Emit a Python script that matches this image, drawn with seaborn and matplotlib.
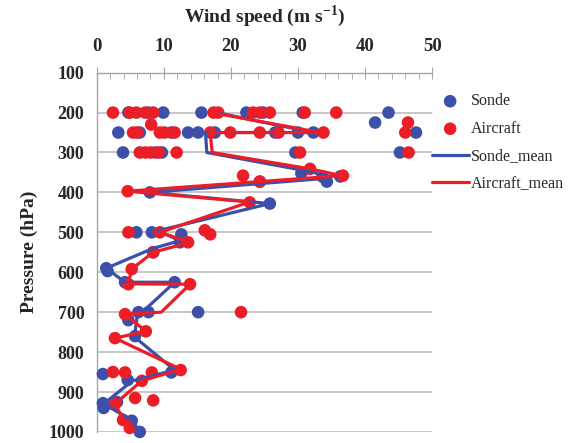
import numpy as np
import pandas as pd
import matplotlib
matplotlib.use("Agg")
import matplotlib.pyplot as plt
import seaborn as sns
from matplotlib.ticker import MultipleLocator

# sonde observations (wind speed m/s, pressure hPa)
sonde_speed = [4.7, 7.7, 9.9, 15.6, 22.3, 24.8, 30.7, 43.5, 41.5,
               3.2, 6.4, 11.1, 13.6, 15.1, 17.6, 26.6, 30.0, 32.3, 47.6,
               3.9, 8.7, 9.7, 29.6, 45.2,
               30.5, 33.7, 36.3, 34.3, 24.3, 7.9, 25.8,
               5.9, 8.2, 12.6, 12.4, 8.4, 1.4, 1.6, 4.2, 11.6,
               6.2, 7.7, 15.1, 4.7, 5.7, 0.9, 11.1, 4.6,
               0.9, 1.0, 3.0, 5.2, 6.4]
sonde_pres = [200, 200, 200, 200, 200, 200, 200, 200, 225,
              250, 250, 250, 250, 250, 250, 250, 250, 250, 250,
              300, 300, 300, 300, 300,
              352, 361, 360, 373, 373, 400, 428,
              500, 500, 505, 525, 550, 590, 597, 625, 625,
              700, 700, 700, 720, 760, 855, 851, 870,
              928, 940, 925, 972, 1000]

# aircraft observations
air_speed = [2.4, 4.9, 5.9, 7.2, 8.4, 17.4, 18.1, 23.3, 24.3, 25.8, 31.0, 35.7,
             8.1, 46.4,
             5.4, 6.0, 9.4, 10.1, 11.6, 16.9, 19.9, 24.3, 27.1, 33.8, 46.0,
             6.4, 7.2, 8.0, 9.2, 11.9, 30.3, 46.5,
             31.8, 21.8, 36.7, 24.3, 4.6, 22.8,
             4.7, 9.4, 16.1, 16.9, 13.6, 8.4, 5.2, 4.7, 13.9,
             4.2, 21.5, 7.3, 2.7, 12.5, 2.4, 4.2, 8.2, 6.7,
             8.4, 2.7, 5.7, 3.9, 4.9]
air_pres = [200, 200, 200, 200, 200, 200, 200, 200, 200, 200, 200, 200,
            230, 225,
            250, 250, 250, 250, 250, 250, 250, 250, 250, 250, 250,
            300, 300, 300, 300, 300, 300, 300,
            341, 358, 358, 373, 397, 425,
            500, 500, 495, 505, 525, 550, 592, 630, 630,
            705, 700, 748, 765, 845, 850, 851, 851, 872,
            921, 930, 915, 970, 990]

# mean profiles, in drawing order
sonde_mean_speed = [17.8, 32.3, 16.2, 16.4, 32.5, 34.0, 7.9, 25.8, 9.1, 12.4, 8.4,
                    1.4, 4.2, 11.6, 6.0, 5.6, 11.6, 5.3, 1.0, 5.2, 6.4]
sonde_mean_pres = [200, 250, 250, 300, 350, 365, 400, 428, 496, 521, 540,
                   590, 625, 625, 712, 762, 845, 872, 930, 970, 1000]
air_mean_speed = [17.2, 33.3, 16.9, 17.2, 31.8, 36.5, 4.6, 22.8, 9.4, 13.9, 8.4,
                  5.2, 4.7, 13.9, 9.6, 4.2, 7.3, 2.7, 12.5, 6.7, 2.7, 4.0, 4.9]
air_mean_pres = [200, 250, 250, 300, 341, 358, 397, 424, 500, 525, 550,
                 592, 629, 630, 700, 705, 748, 765, 843, 872, 930, 970, 1000]

blue = "#3C50AA"
red = "#EB1E28"

sns.set_style("white")
plt.rcParams["font.family"] = ["Liberation Serif", "DejaVu Serif"]
plt.rcParams["mathtext.fontset"] = "custom"
plt.rcParams["mathtext.rm"] = "Liberation Serif"
plt.rcParams["mathtext.bf"] = "Liberation Serif:bold"

fig = plt.figure(figsize=(5.8, 4.43), dpi=100)
ax = fig.add_axes([0.167, 0.025, 0.578, 0.811])

sonde = pd.DataFrame({"speed": sonde_speed, "pres": sonde_pres})
air = pd.DataFrame({"speed": air_speed, "pres": air_pres})
sonde_mean = pd.DataFrame({"speed": sonde_mean_speed, "pres": sonde_mean_pres})
air_mean = pd.DataFrame({"speed": air_mean_speed, "pres": air_mean_pres})

sns.scatterplot(data=sonde, x="speed", y="pres", ax=ax, color=blue, s=82,
                edgecolor="none", label="Sonde", clip_on=False, zorder=3)
sns.scatterplot(data=air, x="speed", y="pres", ax=ax, color=red, s=82,
                edgecolor="none", label="Aircraft", clip_on=False, zorder=3)
sns.lineplot(data=sonde_mean, x="speed", y="pres", ax=ax, sort=False,
             estimator=None, color=blue, lw=2.3, label="Sonde_mean", zorder=4)
sns.lineplot(data=air_mean, x="speed", y="pres", ax=ax, sort=False,
             estimator=None, color=red, lw=2.3, label="Aircraft_mean", zorder=4)

ax.set_xlim(0, 50)
ax.set_ylim(1000, 100)
ax.set_yticks(np.arange(100, 1001, 100))
ax.xaxis.set_major_locator(MultipleLocator(10))
ax.xaxis.set_minor_locator(MultipleLocator(2))
ax.xaxis.tick_top()
ax.xaxis.set_label_position("top")
ax.grid(axis="y", color="#BFBFBF", lw=1.2)
ax.set_axisbelow(True)

for side in ["right", "bottom"]:
    ax.spines[side].set_visible(False)
for side in ["top", "left"]:
    ax.spines[side].set_color("#A6A6A6")
    ax.spines[side].set_linewidth(1.0)

ax.tick_params(axis="x", which="major", direction="inout", length=8,
               color="#A6A6A6", labelsize=13.5, pad=9)
ax.tick_params(axis="x", which="minor", direction="in", length=4, color="#A6A6A6")
ax.tick_params(axis="y", which="major", direction="out", length=5,
               color="#A6A6A6", labelsize=13, pad=4)
for lab in ax.get_xticklabels() + ax.get_yticklabels():
    lab.set_fontweight("bold")

ax.set_xlabel(r"Wind speed (m s$^{\mathbf{-1}}$)", fontsize=14, fontweight="bold", labelpad=11)
ax.set_ylabel("Pressure (hPa)", fontsize=14, fontweight="bold", labelpad=8)

ax.legend(loc="upper left", bbox_to_anchor=(0.98, 0.96), frameon=False,
          fontsize=11.5, labelspacing=0.72, handlelength=2.3, handletextpad=0.15,
          borderaxespad=0.0)

fig.savefig("out.png", dpi=100)
